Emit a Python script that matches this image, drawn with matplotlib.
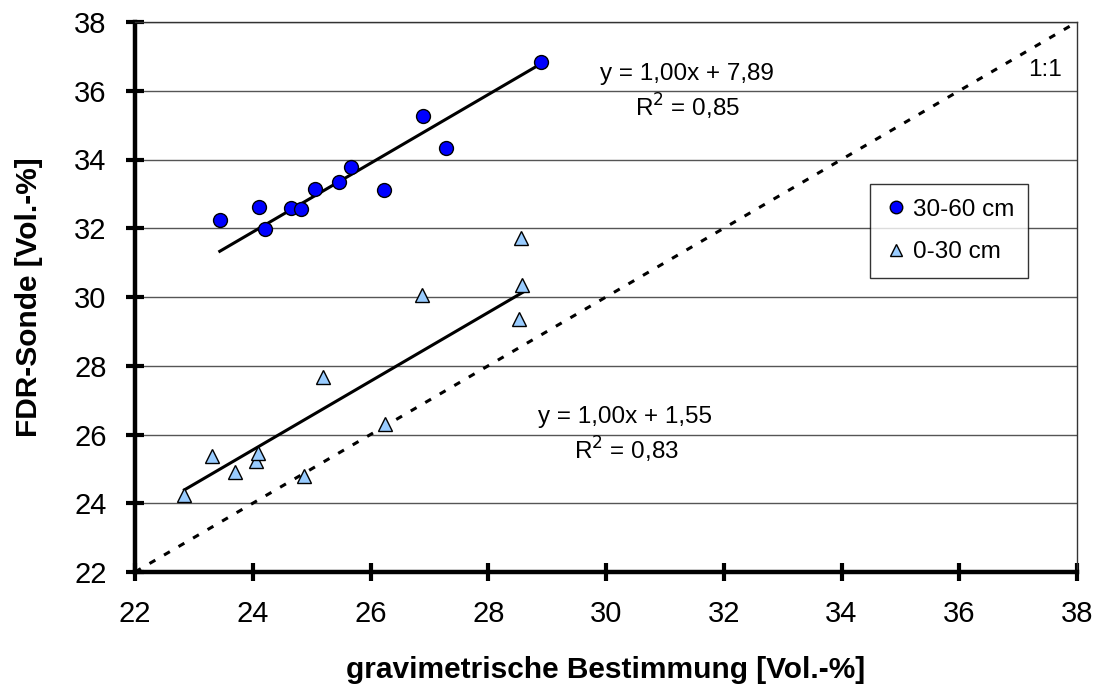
import numpy as np
import matplotlib

matplotlib.use("Agg")
import matplotlib.pyplot as plt

plt.rcParams["font.family"] = ["Liberation Sans", "DejaVu Sans"]

# 30-60 cm depth: gravimetric vs FDR probe
grav_deep = [23.44, 24.11, 24.20, 24.65, 24.82, 25.06, 25.47, 25.67, 26.23, 26.90, 27.29, 28.89]
fdr_deep = [32.24, 32.63, 31.98, 32.58, 32.57, 33.15, 33.35, 33.79, 33.10, 35.26, 34.33, 36.83]

# 0-30 cm depth
grav_top = [22.84, 23.30, 23.70, 24.05, 24.09, 24.87, 25.19, 26.24, 26.87, 28.55, 28.52, 28.58]
fdr_top = [24.25, 25.38, 24.92, 25.22, 25.46, 24.80, 27.66, 26.31, 30.07, 31.73, 29.36, 30.36]

# trend line coefficients (slope, intercept) and R^2 as printed in the chart
fit_deep = (1.00, 7.89, 0.85)
fit_top = (1.00, 1.55, 0.83)

ticks = [22, 24, 26, 28, 30, 32, 34, 36, 38]

W, H = 1095, 684


def fit_label(slope, intercept, r2):
    s = f"y = {slope:.2f}x + {intercept:.2f}".replace(".", ",")
    r = f"R$^2$ = {r2:.2f}".replace(".", ",")
    return s, r


def main() -> None:
    fig = plt.figure(figsize=(W / 100, H / 100), dpi=100)
    ax = fig.add_axes([135 / W, 1 - 572 / H, 942 / W, 550 / H])

    ax.set_xlim(22, 38)
    ax.set_ylim(22, 38)

    # horizontal gridlines
    for t in ticks[1:]:
        ax.axhline(t, color="#555555", lw=1.0, zorder=1)

    # 1:1 line
    ax.plot([22, 38], [22, 38], color="black", lw=2.2, ls=(0, (2.2, 3.3)), zorder=2)

    # trend lines over the range of each series
    for gx, (m, b, _) in ((grav_deep, fit_deep), (grav_top, fit_top)):
        xs = np.array([min(gx), max(gx)])
        ax.plot(xs, m * xs + b, color="black", lw=2.2, zorder=3)

    ax.plot(grav_deep, fdr_deep, ls="none", marker="o", ms=10, mfc="#0000FF",
            mec="black", mew=1.0, label="30-60 cm", zorder=4)
    ax.plot(grav_top, fdr_top, ls="none", marker="^", ms=10, mfc="#99CCFF",
            mec="black", mew=1.0, label="0-30 cm", zorder=4)

    def px_text(x, y, s):
        fig.text(x / W, 1 - y / H, s, fontsize=17.5, ha="center", va="center")

    px_text(687, 74, fit_label(*fit_deep)[0])
    px_text(688, 107, fit_label(*fit_deep)[1])
    px_text(625, 417, fit_label(*fit_top)[0])
    px_text(626, 450, fit_label(*fit_top)[1])
    px_text(1045, 70, "1:1")

    leg = ax.legend(loc="upper left", bbox_to_anchor=((870 - 135) / 942, 1 - (184 - 22) / 550),
                    fontsize=17.5, frameon=True, fancybox=False, edgecolor="black",
                    handlelength=0.9, handletextpad=0.25, borderpad=0.6, labelspacing=0.85,
                    borderaxespad=0)
    leg.get_frame().set_linewidth(1.0)
    for h in leg.legend_handles:
        h.set_markersize(9)

    ax.set_xticks(ticks)
    ax.set_yticks(ticks)
    ax.tick_params(axis="both", direction="inout", length=13, width=3, labelsize=21, pad=14)

    for side in ("left", "bottom"):
        ax.spines[side].set_linewidth(3.2)
    for side in ("top", "right"):
        ax.spines[side].set_linewidth(1.0)
        ax.spines[side].set_color("#333333")

    ax.set_xlabel("gravimetrische Bestimmung [Vol.-%]", fontsize=21.5, fontweight="bold", labelpad=20)
    ax.set_ylabel("FDR-Sonde [Vol.-%]", fontsize=21.5, fontweight="bold", labelpad=22)

    fig.savefig("out.png", dpi=100)


if __name__ == "__main__":
    main()
